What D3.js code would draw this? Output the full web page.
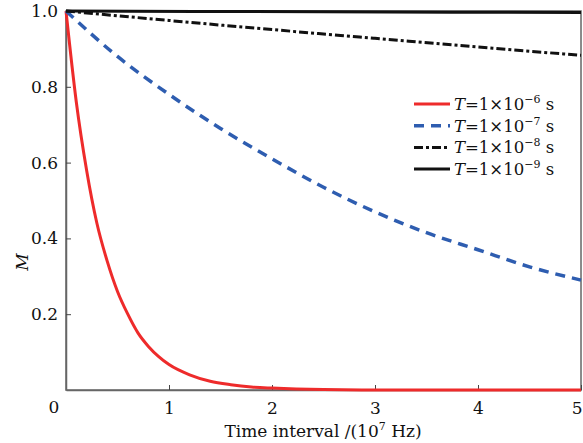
<!DOCTYPE html>
<html>
<head>
<meta charset="utf-8">
<script src="https://cdn.jsdelivr.net/npm/d3@7"></script>
<style>
  body { margin: 0; background: #fff; }
  text { font-family: "DejaVu Serif", "Liberation Serif", serif; fill: #111; }
</style>
</head>
<body>
<svg id="chart" width="583" height="443"></svg>
<script>
// values (M vs time interval, 10^7 Hz)
const xRed   = [0, 0.1, 0.2, 0.3, 0.4, 0.5, 0.6, 0.7, 0.8, 0.9, 1.0, 1.2, 1.4, 1.6, 1.8, 2.0, 2.5, 3, 4, 5];
const mRed   = [1, 0.76, 0.58, 0.44, 0.34, 0.26, 0.2, 0.15, 0.115, 0.088, 0.067, 0.04, 0.023, 0.014, 0.008, 0.005, 0.001, 0, 0, 0];
const xBlue  = [0, 0.5, 1, 1.5, 2, 2.5, 3, 3.5, 4, 4.5, 5];
const mBlue  = [1, 0.88, 0.78, 0.69, 0.61, 0.535, 0.47, 0.415, 0.37, 0.325, 0.29];
const xDash  = [0, 1, 2, 3, 4, 5];
const mDash  = [1, 0.975, 0.951, 0.928, 0.905, 0.883];
const xBlack = [0, 2.5, 5];
const mBlack = [1, 0.998, 0.996];
const labels = ["−6", "−7", "−8", "−9"];
const xTicks = [1, 2, 3, 4, 5];
const yTicks = [0.2, 0.4, 0.6, 0.8, 1.0];

const svg = d3.select("#chart");
const margin = {top: 11, right: 2, bottom: 53, left: 66};
const W = 583, H = 443;
const FS = 17;

const x = d3.scaleLinear().domain([0, 5]).range([margin.left, W - margin.right]);
const y = d3.scaleLinear().domain([0, 1]).range([H - margin.bottom, margin.top]);

// frame
svg.append("rect")
    .attr("x", x(0)).attr("y", y(1))
    .attr("width", x(5) - x(0)).attr("height", y(0) - y(1))
    .attr("fill", "none").attr("stroke", "#666").attr("stroke-width", 1.5);

// axes, ticks pointing inward
const xAxis = svg.append("g")
    .attr("transform", "translate(0," + y(0) + ")")
    .call(d3.axisBottom(x).tickValues(xTicks).tickSizeInner(-5).tickSizeOuter(0).tickPadding(12).tickFormat(d3.format("d")));
const yAxis = svg.append("g")
    .attr("transform", "translate(" + x(0) + ",0)")
    .call(d3.axisLeft(y).tickValues(yTicks).tickSizeInner(-5).tickSizeOuter(0).tickPadding(8).tickFormat(d3.format(".1f")));
[xAxis, yAxis].forEach(a => {
    a.select(".domain").attr("stroke", "#666").attr("stroke-width", 1.5);
    a.selectAll(".tick line").attr("stroke", "#444");
    a.selectAll("text").attr("font-size", FS).attr("font-family", "DejaVu Serif").attr("fill", "#111");
});
// the last x label sits on the page edge, keep it inside
xAxis.selectAll(".tick text").filter(d => d === 5).attr("text-anchor", "end").attr("dx", 1);
svg.append("text").attr("x", 54).attr("y", 413).attr("text-anchor", "middle")
    .attr("font-size", FS).text("0");

// axis titles
const xt = svg.append("text").attr("x", 323).attr("y", 437).attr("text-anchor", "middle").attr("font-size", FS);
xt.append("tspan").text("Time interval /(10");
xt.append("tspan").attr("font-size", 11).attr("dy", -7).text("7");
xt.append("tspan").attr("dy", 7).text(" Hz)");

svg.append("text")
    .attr("transform", "translate(28,262) rotate(-90)")
    .attr("text-anchor", "middle").attr("font-size", FS).attr("font-style", "italic")
    .text("M");

// curves
const series = [
    {xs: xRed,   ms: mRed,   color: "#ee2b2b", width: 3,   dash: null},
    {xs: xBlue,  ms: mBlue,  color: "#2e5db0", width: 3.5, dash: "10,7"},
    {xs: xDash,  ms: mDash,  color: "#111",    width: 3,   dash: "9,3,3,3"},
    {xs: xBlack, ms: mBlack, color: "#111",    width: 3,   dash: null}
];
const line = d3.line().x(d => x(d[0])).y(d => y(d[1])).curve(d3.curveMonotoneX);
series.forEach(s => {
    svg.append("path")
        .datum(s.xs.map((v, i) => [v, s.ms[i]]))
        .attr("fill", "none")
        .attr("stroke", s.color)
        .attr("stroke-width", s.width)
        .attr("stroke-dasharray", s.dash)
        .attr("d", line);
});

// legend
const lg = svg.append("g");
series.forEach((s, i) => {
    const yy = 104 + i * 21.7;
    lg.append("line")
        .attr("x1", 414).attr("x2", 450).attr("y1", yy).attr("y2", yy)
        .attr("stroke", s.color).attr("stroke-width", s.width)
        .attr("stroke-dasharray", s.dash);
    const t = lg.append("text").attr("x", 454).attr("y", yy + 6).attr("font-size", 16.5);
    t.append("tspan").attr("font-style", "italic").text("T");
    t.append("tspan").text("=1×10");
    t.append("tspan").attr("font-size", 11).attr("dy", -7).text(labels[i]);
    t.append("tspan").attr("dy", 7).text(" s");
});
</script>
</body>
</html>
